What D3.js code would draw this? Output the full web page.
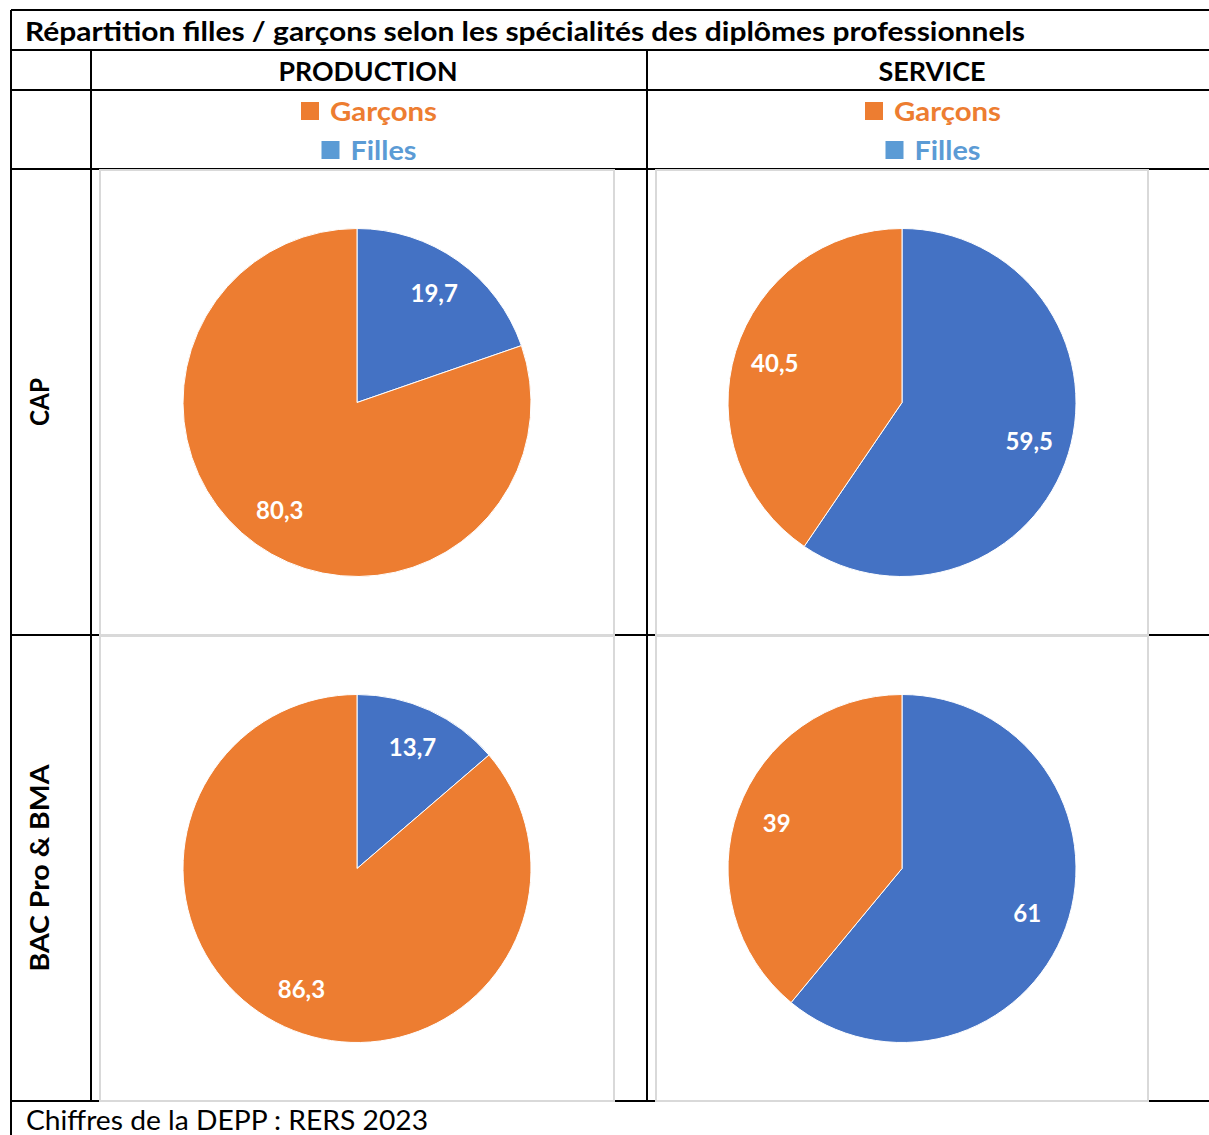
<!DOCTYPE html>
<html>
<head>
<meta charset="utf-8">
<script src="https://cdn.jsdelivr.net/npm/d3@7"></script>
<style>
  body { margin: 0; background: #fff; }
  svg text { font-family: Lato, "Open Sans", sans-serif; }
</style>
</head>
<body>
<script>
// data
const domains = ["PRODUCTION", "SERVICE"];
const levels = ["CAP", "BAC Pro & BMA"];
const series = ["Filles", "Garçons"];
const legendOrder = ["Garçons", "Filles"];
// rows = levels, columns = domains
const filles = [[19.7, 59.5], [13.7, 61]];
const garcons = [[80.3, 40.5], [86.3, 39]];

const title = "Répartition filles / garçons selon les spécialités des diplômes professionnels";
const source = "Chiffres de la DEPP : RERS 2023";

const pieColor = {"Filles": "#4472C4", "Garçons": "#ED7D31"};
const legendColor = {"Filles": "#5B9BD5", "Garçons": "#ED7D31"};

const width = 1209, height = 1135;

const svg = d3.select("body").append("svg")
  .attr("width", width)
  .attr("height", height);

// table grid
const tLeft = 11, tTop = 10, tRight = 1215;
const titleBottom = 50, headBottom = 90, legBottom = 169, bottom = 1101;
const colEdges = [91, 647, tRight];
const rowEdges = [legBottom, 635, bottom];
const frames = [[100, 614], [656, 1148]];

const lines = svg.append("g").attr("stroke", "#000").attr("stroke-width", 2);
// horizontal rules
[tTop, titleBottom, headBottom, legBottom, 635, bottom]
  .forEach(y => lines.append("line").attr("x1", tLeft).attr("x2", tRight).attr("y1", y).attr("y2", y));
lines.append("line").attr("x1", tLeft).attr("x2", tLeft).attr("y1", tTop).attr("y2", height);
colEdges.slice(0, 2).forEach(x =>
  lines.append("line").attr("x1", x).attr("x2", x).attr("y1", titleBottom).attr("y2", bottom));

// title + footer
svg.append("text").attr("x", 25).attr("y", 41)
  .attr("font-size", 27).attr("font-weight", 700)
  .attr("textLength", 1000).attr("lengthAdjust", "spacingAndGlyphs")
  .text(title);
svg.append("text").attr("x", 26).attr("y", 1130)
  .attr("font-size", 27)
  .attr("textLength", 402).attr("lengthAdjust", "spacingAndGlyphs")
  .text(source);

const headWidths = {"PRODUCTION": 179, "SERVICE": 107};
const headCenters = [368, 932];
const legWidths = {"Garçons": 107, "Filles": 66};

domains.forEach((dom, j) => {
  const cx = headCenters[j];
  svg.append("text").attr("x", cx).attr("y", 81)
    .attr("text-anchor", "middle")
    .attr("font-size", 27).attr("font-weight", 700)
    .attr("textLength", headWidths[dom]).attr("lengthAdjust", "spacingAndGlyphs")
    .text(dom);

  // legend
  legendOrder.forEach((s, k) => {
    const w = 18 + 11 + legWidths[s];
    const x0 = cx + 1 - w / 2;
    const by = 121 + k * 39;
    svg.append("rect").attr("x", x0).attr("y", by - 19)
      .attr("width", 18).attr("height", 18)
      .attr("fill", legendColor[s]);
    svg.append("text").attr("x", x0 + 29).attr("y", by)
      .attr("font-size", 27).attr("font-weight", 700)
      .attr("fill", legendColor[s])
      .attr("textLength", legWidths[s]).attr("lengthAdjust", "spacingAndGlyphs")
      .text(s);
  });
});

// row labels
const rowLabelWidths = {"CAP": 48, "BAC Pro & BMA": 207};
levels.forEach((lv, i) => {
  const cy = (rowEdges[i] + rowEdges[i + 1]) / 2;
  svg.append("text")
    .attr("transform", `translate(49,${cy}) rotate(-90)`)
    .attr("text-anchor", "middle")
    .attr("font-size", 27).attr("font-weight", 700)
    .attr("textLength", rowLabelWidths[lv]).attr("lengthAdjust", "spacingAndGlyphs")
    .text(lv);
});

// pies
const radius = 174;
const pie = d3.pie().sort(null).value(d => d.value);
const arc = d3.arc().innerRadius(0).outerRadius(radius);
const labelArc = d3.arc().innerRadius(radius * 0.765).outerRadius(radius * 0.765);
const fmt = v => String(v).replace(".", ",");

levels.forEach((lv, i) => {
  domains.forEach((dom, j) => {
    const [fx0, fx1] = frames[j];
    const fy0 = rowEdges[i] + 1, fy1 = rowEdges[i + 1];
    svg.append("rect")
      .attr("x", fx0).attr("y", fy0)
      .attr("width", fx1 - fx0).attr("height", fy1 - fy0)
      .attr("fill", "none").attr("stroke", "#d9d9d9").attr("stroke-width", 2);

    const data = [
      {key: "Filles", value: filles[i][j]},
      {key: "Garçons", value: garcons[i][j]}
    ];
    const g = svg.append("g")
      .attr("transform", `translate(${(fx0 + fx1) / 2},${(fy0 + fy1) / 2})`);
    const arcs = pie(data);
    g.selectAll("path")
      .data(arcs)
      .enter()
      .append("path")
      .attr("d", arc)
      .attr("fill", d => pieColor[d.data.key])
      .attr("stroke", "#fff")
      .attr("stroke-width", 1);
    g.selectAll("text")
      .data(arcs)
      .enter()
      .append("text")
      .attr("transform", d => `translate(${labelArc.centroid(d)})`)
      .attr("text-anchor", "middle")
      .attr("dy", "0.35em")
      .attr("font-size", 24).attr("font-weight", 700)
      .attr("fill", "#fff")
      .text(d => fmt(d.data.value));
  });
});
</script>
</body>
</html>
